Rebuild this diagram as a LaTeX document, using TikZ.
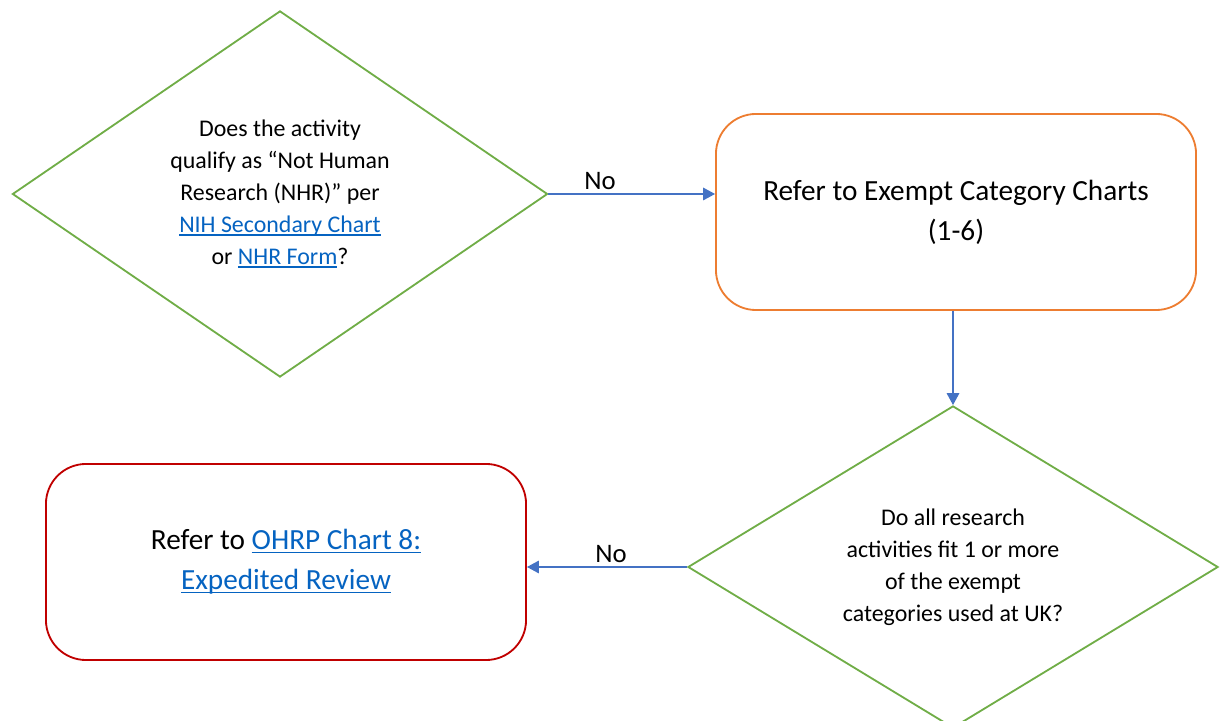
\documentclass[tikz,border=0pt]{standalone}
\usepackage{fontspec}
\setmainfont{Carlito}
\usetikzlibrary{shapes.geometric,arrows.meta}

\definecolor{dgreen}{HTML}{70AD47}
\definecolor{borange}{HTML}{ED7D31}
\definecolor{bred}{HTML}{C00000}
\definecolor{arrowblue}{HTML}{4472C4}
\definecolor{linkblue}{HTML}{0563C1}

\newcommand{\lnk}[1]{{\color{linkblue}\setbox0\hbox{#1}\rlap{\rule[-2.2pt]{\wd0}{0.9pt}}\box0}}

\begin{document}
\begin{tikzpicture}[x=0.025cm,y=0.025cm,>={Triangle[length=8.5pt,width=9pt]},
	decision/.style={diamond,draw=dgreen,line width=1.3pt,inner sep=0pt,align=center,font=\fontsize{17}{22.7}\selectfont},
	result/.style={rectangle,rounded corners=1cm,line width=1.3pt,minimum width=12cm,minimum height=4.9cm,align=center,font=\fontsize{20.8}{28.4}\selectfont},
	flow/.style={draw=arrowblue,fill=arrowblue,line width=0.8pt},
	answer/.style={font=\fontsize{19}{23}\selectfont,above,inner sep=3pt,fill=none}]

\useasboundingbox (0,0) rectangle (1220,721);

\node[decision,aspect=1.46,minimum width=13.375cm,minimum height=9.15cm]   (q1) at (280,527)
	{Does the activity\\qualify as “Not Human\\Research (NHR)” per\\\lnk{NIH Secondary Chart}\\or \lnk{NHR Form}?};
\node[result,draw=borange]   (exempt) at (956,509)   {Refer to Exempt Category Charts\\(1-6)};
\node[decision,aspect=1.65,minimum width=13.25cm,minimum height=8.05cm]   (q2) at (953,154)
	{Do all research\\activities fit 1 or more\\of the exempt\\categories used at UK?};
\node[result,draw=bred]   (expedited) at (286,159)   {Refer to \lnk{OHRP Chart 8:}\\\lnk{Expedited Review}};

\draw[->,flow] (q1.east) -- node[answer,pos=0.31]{No} (exempt.west |- q1.east);
\draw[->,flow] (exempt.south -| q2.north) -- (q2.north);
\draw[->,flow] (q2.west) -- node[answer,pos=0.475]{No} (expedited.east |- q2.west);

\end{tikzpicture}
\end{document}
